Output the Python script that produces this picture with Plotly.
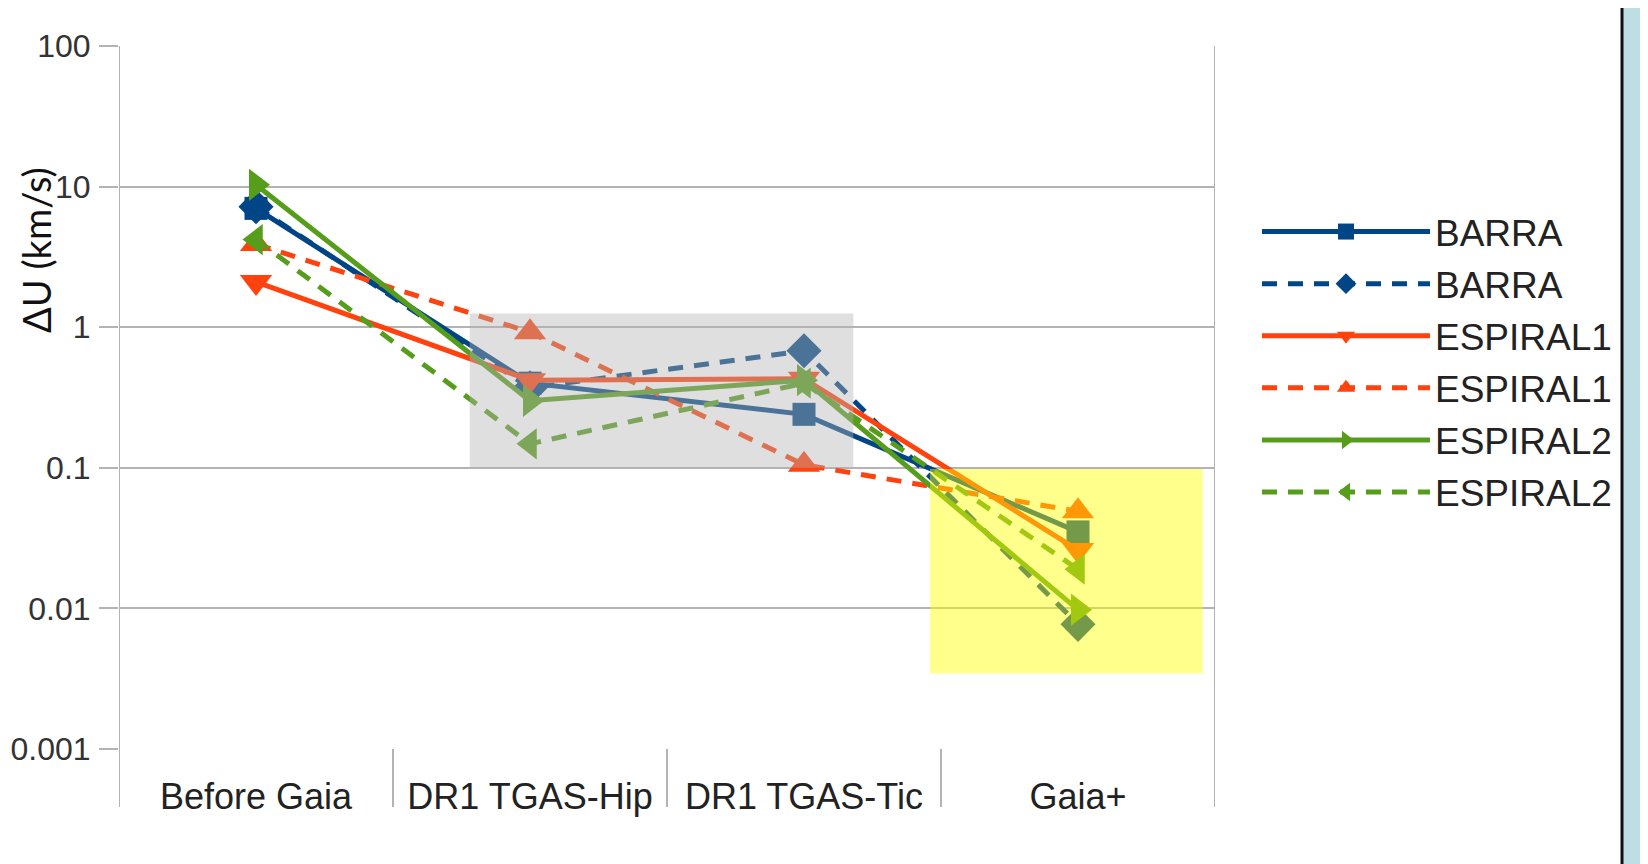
import plotly.graph_objects as go

categories = ["Before Gaia", "DR1 TGAS-Hip", "DR1 TGAS-Tic", "Gaia+"]
series_names = ["BARRA", "BARRA", "ESPIRAL1", "ESPIRAL1", "ESPIRAL2", "ESPIRAL2"]
barra_solid = [7.0, 0.40, 0.24, 0.035]
barra_dash = [7.2, 0.37, 0.68, 0.0077]
esp1_solid = [2.1, 0.42, 0.43, 0.026]
esp1_dash = [3.9, 0.92, 0.105, 0.049]
esp2_solid = [10.3, 0.30, 0.42, 0.0098]
esp2_dash = [4.2, 0.148, 0.40, 0.019]
ytick_vals = [0.001, 0.01, 0.1, 1, 10, 100]
ytick_text = ["0.001", "0.01", "0.1", "1", "10", "100"]

BLUE = "#004586"
RED = "#ff420e"
GREEN = "#579d1c"

series = [
    (barra_solid, BLUE, "solid", "square", 23),
    (barra_dash, BLUE, "dash", "diamond", 27),
    (esp1_solid, RED, "solid", "triangle-down", 28),
    (esp1_dash, RED, "dash", "triangle-up", 28),
    (esp2_solid, GREEN, "solid", "triangle-right", 28),
    (esp2_dash, GREEN, "dash", "triangle-left", 27),
]

fig = go.Figure()
xs = list(range(len(categories)))
for i, (vals, col, dash, sym, sz) in enumerate(series):
    fig.add_trace(go.Scatter(
        x=xs, y=vals, mode="lines+markers", name=series_names[i],
        legendgroup="g%d" % i,
        line=dict(color=col, width=5, dash="15px,11px" if dash == "dash" else "solid"),
        marker=dict(color=col, symbol=sym, size=sz, line=dict(width=0)),
    ))

# page has an 8px body margin: work in reference pixels, shift by OFF
OFF = 8
W, H = 1648 - OFF, 864 - OFF
L, R, T, B = 119 - OFF, 1215 - OFF, 46 - OFF, 749 - OFF
pw, ph = R - L, B - T


def px(xr):
    return (xr - OFF - L) / pw


def py(yr):
    return (B - (yr - OFF)) / ph


GRID = "#b3b3b3"
shapes = []
for xv in [-0.5, 0.5, 1.5, 2.5, 3.5]:
    y1 = 1 if xv in (-0.5, 3.5) else 0
    shapes.append(dict(type="line", xref="x", yref="paper", x0=xv, x1=xv, y0=py(807), y1=y1,
                       line=dict(color=GRID, width=2), layer="below"))
shapes.append(dict(type="rect", xref="x", yref="y", x0=0.78, x1=2.18, y0=0.1, y1=1.25,
                   fillcolor="rgb(178,178,178)", opacity=0.42, line=dict(width=0), layer="above"))
shapes.append(dict(type="rect", xref="x", yref="y", x0=2.46, x1=3.455, y0=0.00344, y1=0.098,
                   fillcolor="rgb(255,255,0)", opacity=0.45, line=dict(width=0), layer="above"))
shapes.append(dict(type="rect", xref="paper", yref="paper",
                   x0=px(1622), x1=px(1660), y0=py(880), y1=py(-10),
                   fillcolor="#bddfe3", line=dict(color="#111111", width=3), layer="below"))

fig.update_layout(
    width=W, height=H,
    margin=dict(l=L, r=W - R, t=T, b=H - B, pad=0, autoexpand=False),
    paper_bgcolor="white", plot_bgcolor="white",
    font=dict(family="Liberation Sans, Arial, sans-serif", color="#222222"),
    shapes=shapes,
    showlegend=True,
    legend=dict(x=px(1257), y=py(201), xanchor="left", yanchor="top",
                font=dict(size=37, color="#222222"), itemwidth=168,
                tracegroupgap=1, bgcolor="rgba(0,0,0,0)"),
    annotations=[dict(text="ΔU (km/s)", xref="paper", yref="paper",
                      x=px(36), y=py(250), textangle=-90,
                      showarrow=False, font=dict(family="Lato", size=38, color="#111111"),
                      xanchor="center", yanchor="middle")],
)
fig.update_xaxes(range=[-0.5, 3.5], tickvals=xs, ticktext=categories, showgrid=False,
                 zeroline=False, showline=False, ticks="outside", ticklen=16, automargin=False,
                 tickcolor="rgba(0,0,0,0)", tickfont=dict(size=36, color="#222222"))
fig.update_yaxes(type="log", range=[-3, 2], tickvals=ytick_vals, ticktext=ytick_text,
                 showgrid=True, gridcolor=GRID, gridwidth=2, zeroline=False, showline=False,
                 ticks="outside", ticklen=19, tickcolor=GRID, tickwidth=2, automargin=False,
                 ticklabelstandoff=2, tickfont=dict(size=32, color="#333333"))

fig.write_html("out.html")
